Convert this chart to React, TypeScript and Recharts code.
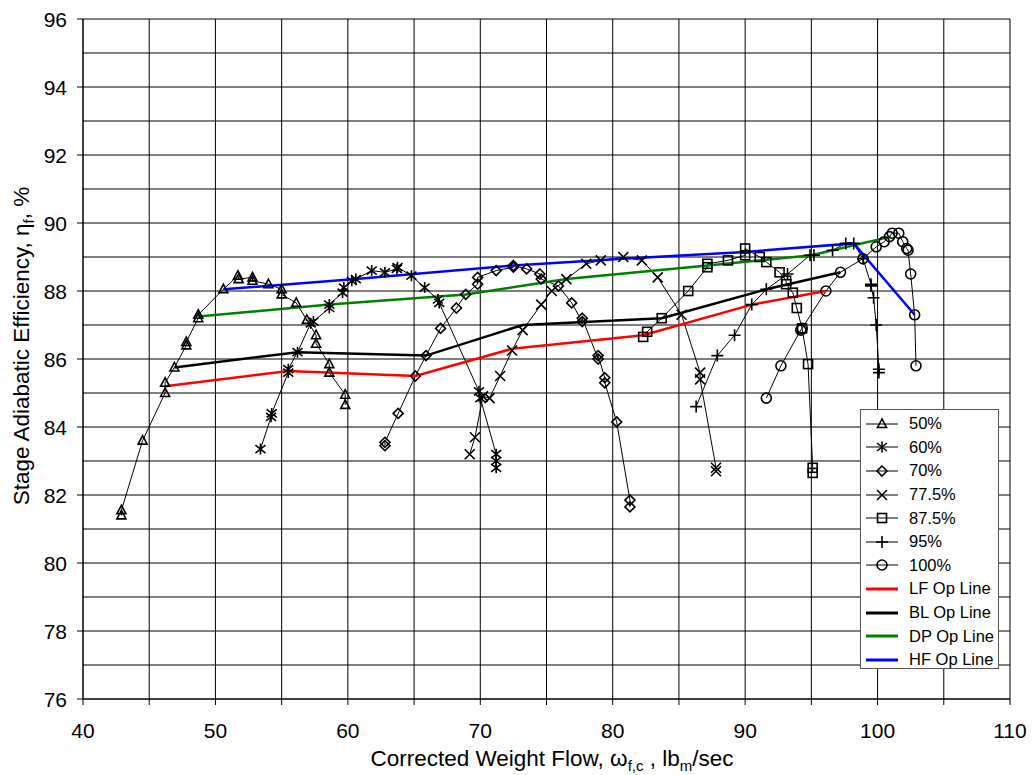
import React from 'react';
import { LineChart, Line, XAxis, YAxis, CartesianGrid, Label } from 'recharts';

// corrected weight flow (lbm/sec) and stage efficiency (%) per speed line
const flow50 = [42.9, 42.9, 44.5, 46.2, 46.2, 46.9, 47.8, 47.8, 48.7, 48.7, 50.6, 51.7, 51.75, 52.8, 52.8, 54.0, 55.0, 55.0, 56.1, 56.9, 57.6, 57.6, 58.6, 58.6, 59.8, 59.8];
const eff50 = [81.4, 81.55, 83.6, 85.0, 85.3, 85.75, 86.4, 86.5, 87.2, 87.3, 88.05, 88.45, 88.35, 88.4, 88.3, 88.2, 88.05, 87.9, 87.65, 87.15, 86.7, 86.45, 85.85, 85.6, 84.95, 84.65];

const flow60 = [53.4, 54.2, 54.25, 55.5, 55.5, 56.2, 57.2, 57.4, 58.6, 58.6, 59.6, 59.7, 60.3, 60.6, 61.8, 62.8, 63.7, 63.75, 64.8, 65.8, 66.8, 66.9, 69.9, 70.0, 71.2, 71.2, 71.2];
const eff60 = [83.35, 84.3, 84.4, 85.6, 85.7, 86.2, 87.05, 87.1, 87.5, 87.6, 87.95, 88.1, 88.3, 88.35, 88.6, 88.55, 88.65, 88.7, 88.45, 88.1, 87.75, 87.65, 85.05, 84.85, 83.2, 83.0, 82.8];

const flow70 = [62.8, 62.8, 63.8, 65.1, 65.9, 67.0, 68.2, 68.9, 69.8, 69.8, 71.2, 72.5, 72.5, 73.5, 74.5, 74.6, 75.9, 76.9, 77.7, 77.7, 78.9, 78.9, 79.4, 79.4, 80.3, 81.3, 81.3];
const eff70 = [83.45, 83.55, 84.4, 85.5, 86.1, 86.9, 87.5, 87.9, 88.2, 88.4, 88.6, 88.7, 88.75, 88.65, 88.5, 88.35, 88.15, 87.65, 87.1, 87.2, 86.0, 86.1, 85.45, 85.3, 84.15, 81.85, 81.65];

const flow775 = [69.2, 69.6, 70.2, 70.7, 71.5, 72.4, 73.2, 74.6, 75.4, 76.5, 78.0, 79.1, 80.8, 82.2, 83.4, 85.2, 86.6, 86.6, 87.8, 87.8];
const eff775 = [83.2, 83.7, 84.9, 84.85, 85.5, 86.25, 86.85, 87.6, 88.0, 88.35, 88.8, 88.9, 89.0, 88.9, 88.4, 87.3, 85.6, 85.4, 82.8, 82.7];

const flow875 = [82.3, 82.6, 83.7, 85.7, 87.15, 87.15, 88.7, 90.0, 90.0, 91.1, 91.6, 92.6, 93.1, 93.1, 93.6, 93.9, 94.3, 94.75, 95.1, 95.1];
const eff875 = [86.65, 86.8, 87.2, 88.0, 88.7, 88.8, 88.9, 89.05, 89.25, 89.0, 88.85, 88.55, 88.3, 88.2, 87.95, 87.5, 86.9, 85.85, 82.8, 82.65];

const flow95 = [86.3, 87.9, 89.2, 90.5, 91.6, 93.2, 94.9, 95.2, 96.6, 97.6, 98.2, 98.9, 99.5, 99.5, 99.7, 99.9, 100.1, 100.1];
const eff95 = [84.6, 86.1, 86.7, 87.6, 88.05, 88.5, 89.05, 89.05, 89.2, 89.4, 89.4, 88.95, 88.2, 88.15, 87.8, 87.0, 85.7, 85.6];

const flow100 = [91.6, 92.7, 94.2, 94.3, 96.1, 97.2, 98.9, 99.9, 100.5, 100.9, 101.1, 101.6, 101.9, 102.2, 102.3, 102.5, 102.8, 102.9];
const eff100 = [84.85, 85.8, 86.85, 86.9, 88.0, 88.55, 88.95, 89.3, 89.45, 89.6, 89.7, 89.7, 89.45, 89.25, 89.2, 88.5, 87.3, 85.8];

// operating lines
const flowLF = [46.2, 55.5, 65.1, 72.4, 82.3, 90.5, 96.1];
const effLF = [85.2, 85.65, 85.5, 86.3, 86.7, 87.6, 88.0];
const flowBL = [46.9, 56.2, 65.9, 73.2, 83.7, 91.6, 97.2];
const effBL = [85.75, 86.2, 86.1, 87.0, 87.2, 88.05, 88.55];
const flowDP = [48.7, 58.6, 68.9, 76.5, 87.15, 95.0, 101.0];
const effDP = [87.25, 87.6, 87.9, 88.35, 88.75, 89.05, 89.6];
const flowHF = [50.6, 60.6, 72.5, 80.8, 90.0, 98.2, 102.8];
const effHF = [88.05, 88.35, 88.75, 88.95, 89.15, 89.4, 87.3];

const xTicks = [40, 45, 50, 55, 60, 65, 70, 75, 80, 85, 90, 95, 100, 105, 110];
const yTicks = [76, 77, 78, 79, 80, 81, 82, 83, 84, 85, 86, 87, 88, 89, 90, 91, 92, 93, 94, 95, 96];

const toPoints = (xs: number[], ys: number[]) => xs.map((x, i) => ({ flow: x, eff: ys[i] }));

type MarkerKind = 'tri' | 'star' | 'diamond' | 'x' | 'square' | 'plus' | 'circle';

const speedLines: { name: string; flow: number[]; eff: number[]; marker: MarkerKind }[] = [
  { name: '50%', flow: flow50, eff: eff50, marker: 'tri' },
  { name: '60%', flow: flow60, eff: eff60, marker: 'star' },
  { name: '70%', flow: flow70, eff: eff70, marker: 'diamond' },
  { name: '77.5%', flow: flow775, eff: eff775, marker: 'x' },
  { name: '87.5%', flow: flow875, eff: eff875, marker: 'square' },
  { name: '95%', flow: flow95, eff: eff95, marker: 'plus' },
  { name: '100%', flow: flow100, eff: eff100, marker: 'circle' },
];

const opLines = [
  { name: 'LF Op Line', flow: flowLF, eff: effLF, color: '#ff0000' },
  { name: 'BL Op Line', flow: flowBL, eff: effBL, color: '#000000' },
  { name: 'DP Op Line', flow: flowDP, eff: effDP, color: '#008000' },
  { name: 'HF Op Line', flow: flowHF, eff: effHF, color: '#0000ff' },
];

const FONT = '"Liberation Sans", Arial, sans-serif';
const PLOT_LEFT = 83;
const PLOT_BOTTOM = 699;

const Marker = ({ kind, cx, cy }: { kind: MarkerKind; cx: number; cy: number }) => {
  const s = { stroke: '#000', strokeWidth: 1.6, fill: 'none' };
  switch (kind) {
    case 'tri':
      return <polygon points={`${cx},${cy - 5} ${cx - 4.5},${cy + 3.5} ${cx + 4.5},${cy + 3.5}`} {...s} />;
    case 'star':
      return (
        <path
          d={`M${cx},${cy - 5.5}V${cy + 5.5}M${cx - 5},${cy - 4}L${cx + 5},${cy + 4}M${cx - 5},${cy + 4}L${cx + 5},${cy - 4}`}
          {...s}
        />
      );
    case 'diamond':
      return <polygon points={`${cx},${cy - 5} ${cx + 5},${cy} ${cx},${cy + 5} ${cx - 5},${cy}`} {...s} />;
    case 'x':
      return <path d={`M${cx - 5},${cy - 5}L${cx + 5},${cy + 5}M${cx - 5},${cy + 5}L${cx + 5},${cy - 5}`} {...s} />;
    case 'square':
      return <rect x={cx - 4.5} y={cy - 4.5} width={9} height={9} {...s} />;
    case 'plus':
      return <path d={`M${cx - 6},${cy}H${cx + 6}M${cx},${cy - 6}V${cy + 6}`} {...s} />;
    default:
      return <circle cx={cx} cy={cy} r={5} {...s} />;
  }
};

const YTick = (props: any) => {
  const { payload } = props;
  const y = payload.coordinate;
  if (payload.value % 2 !== 0) return <g />;
  return (
    <g>
      <line x1={PLOT_LEFT - 6} x2={PLOT_LEFT} y1={y} y2={y} stroke="#000" />
      <text x={67} y={y} dy="0.36em" textAnchor="end" fontSize={21} fontFamily={FONT} fill="#000">
        {payload.value}
      </text>
    </g>
  );
};

const XTick = (props: any) => {
  const { payload } = props;
  const x = payload.coordinate;
  return (
    <g>
      <line x1={x} x2={x} y1={PLOT_BOTTOM} y2={PLOT_BOTTOM + 6} stroke="#000" />
      {payload.value % 10 === 0 && (
        <text x={x} y={738} textAnchor="middle" fontSize={21} fontFamily={FONT} fill="#000">
          {payload.value}
        </text>
      )}
    </g>
  );
};

const ChartLegend = () => (
  <div
    style={{
      position: 'absolute',
      left: 860,
      top: 409,
      width: 139,
      height: 260,
      border: '1px solid #555',
      background: '#fff',
      fontFamily: FONT,
      fontSize: 16.5,
      paddingTop: 2,
      boxSizing: 'border-box',
    }}
  >
    {speedLines.map((s) => (
      <div key={s.name} style={{ display: 'flex', alignItems: 'center', height: 23.6 }}>
        <svg width={44} height={20} style={{ marginLeft: 4 }}>
          <line x1={1} x2={33} y1={10} y2={10} stroke="#000" strokeWidth={1} />
          <Marker kind={s.marker} cx={17} cy={10} />
        </svg>
        <span>{s.name}</span>
      </div>
    ))}
    {opLines.map((s) => (
      <div key={s.name} style={{ display: 'flex', alignItems: 'center', height: 23.6 }}>
        <svg width={44} height={20} style={{ marginLeft: 4 }}>
          <line x1={1} x2={33} y1={10} y2={10} stroke={s.color} strokeWidth={3} />
        </svg>
        <span>{s.name}</span>
      </div>
    ))}
  </div>
);

export default function App() {
  return (
    <div style={{ position: 'absolute', left: 0, top: 0, width: 1034, height: 775, background: '#fff' }}>
      <LineChart width={1034} height={775} margin={{ top: 19, right: 24, left: 0, bottom: 0 }}>
        <CartesianGrid stroke="#000" strokeWidth={1} />
        <XAxis
          type="number"
          dataKey="flow"
          domain={[40, 110]}
          ticks={xTicks}
          height={76}
          tick={<XTick />}
          tickLine={false}
          axisLine={{ stroke: '#000' }}
          allowDataOverflow
        >
          <Label
            content={() => (
              <text x={552} y={766} textAnchor="middle" fontSize={22.5} fontFamily={FONT} fill="#000">
                Corrected Weight Flow, ω
                <tspan fontSize={15} dy={5}>f,c</tspan>
                <tspan dy={-5}> , lb</tspan>
                <tspan fontSize={15} dy={5}>m</tspan>
                <tspan dy={-5}>/sec</tspan>
              </text>
            )}
          />
        </XAxis>
        <YAxis
          type="number"
          dataKey="eff"
          domain={[76, 96]}
          ticks={yTicks}
          width={83}
          tick={<YTick />}
          tickLine={false}
          axisLine={{ stroke: '#000' }}
          allowDataOverflow
        >
          <Label
            content={() => (
              <text
                x={29}
                y={346}
                transform="rotate(-90 29 346)"
                textAnchor="middle"
                fontSize={22.5}
                fontFamily={FONT}
                fill="#000"
              >
                Stage Adiabatic Efficiency, η
                <tspan fontSize={15} dy={5}>f</tspan>
                <tspan dy={-5}>,  %</tspan>
              </text>
            )}
          />
        </YAxis>
        {speedLines.map((s) => (
          <Line
            key={s.name}
            data={toPoints(s.flow, s.eff)}
            dataKey="eff"
            name={s.name}
            type="linear"
            stroke="#000"
            strokeWidth={1}
            isAnimationActive={false}
            activeDot={false}
            dot={(p: any) => <Marker key={`${s.name}-${p.index}`} kind={s.marker} cx={p.cx} cy={p.cy} />}
          />
        ))}
        {opLines.map((s) => (
          <Line
            key={s.name}
            data={toPoints(s.flow, s.eff)}
            dataKey="eff"
            name={s.name}
            type="linear"
            stroke={s.color}
            strokeWidth={2.5}
            dot={false}
            activeDot={false}
            isAnimationActive={false}
          />
        ))}
      </LineChart>
      <ChartLegend />
    </div>
  );
}
